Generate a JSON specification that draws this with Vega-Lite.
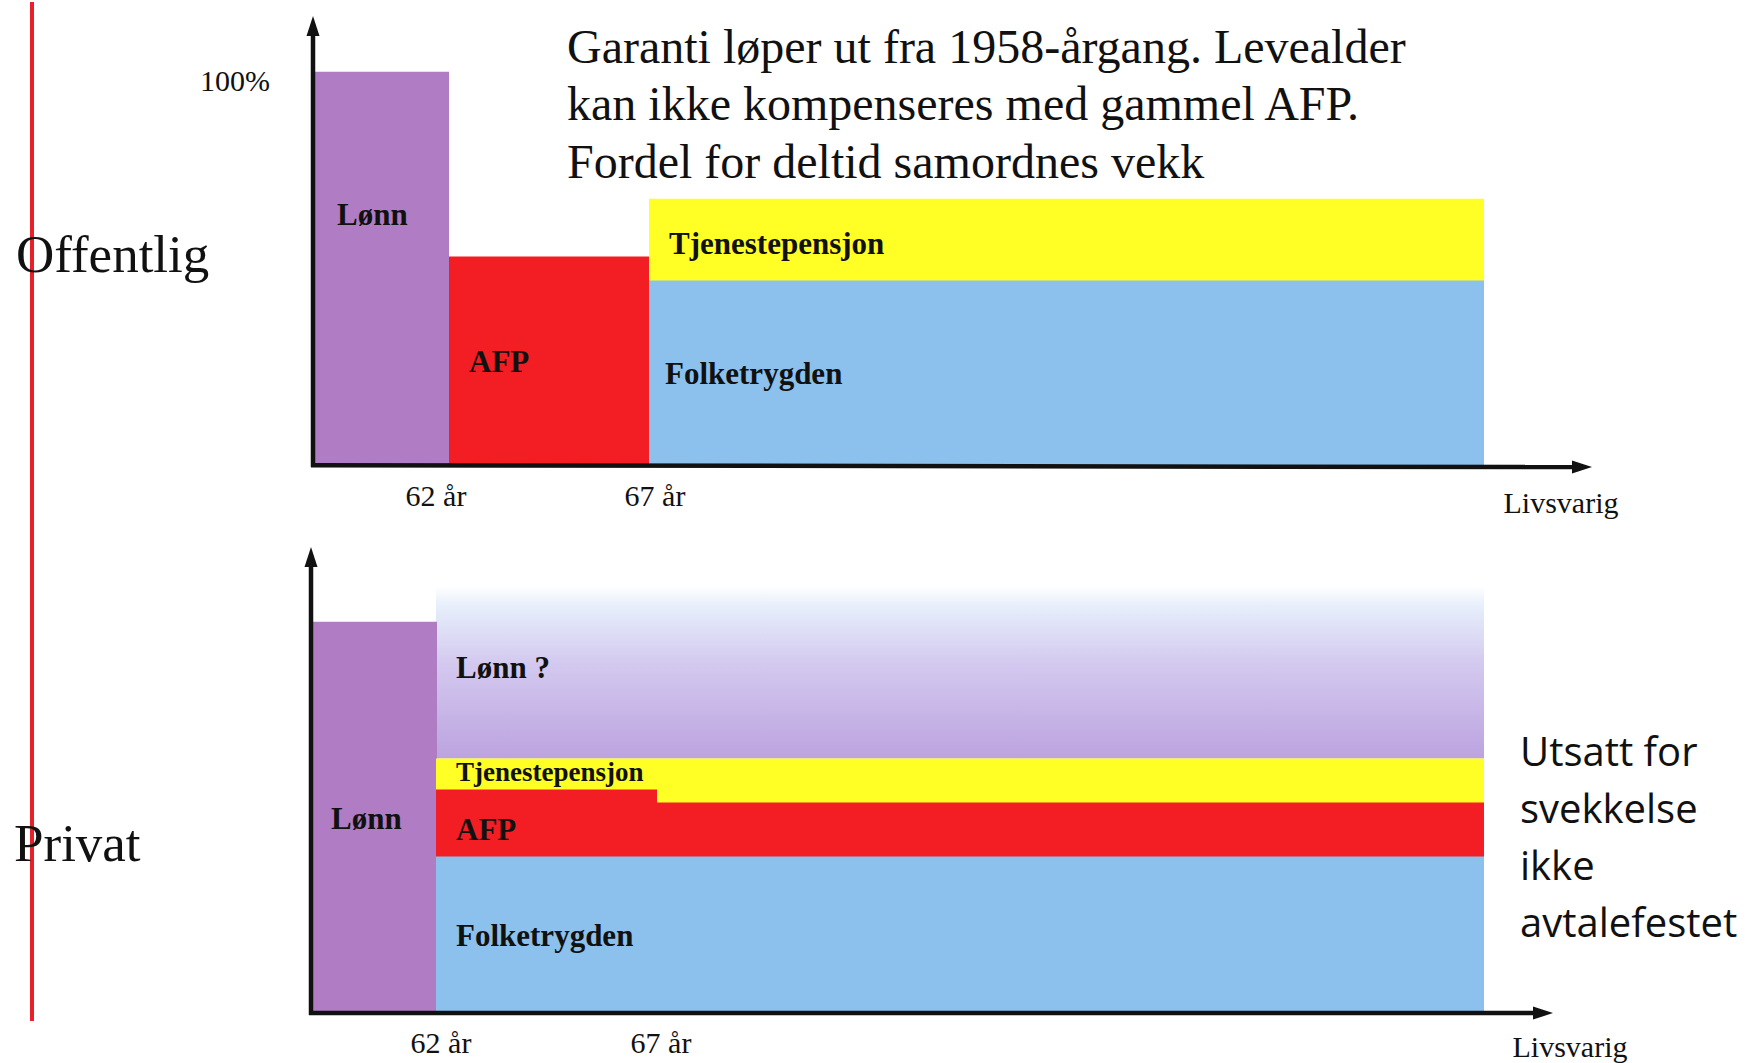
{
  "$schema": "https://vega.github.io/schema/vega-lite/v6.json",
  "width": 1755,
  "height": 1063,
  "autosize": {"type": "fit", "contains": "padding"},
  "padding": 0,
  "background": "white",
  "config": {"view": {"stroke": null}},
  "datasets": {
    "blocks": [
      {"panel": "Offentlig", "part": "Lønn", "x0": 314, "x1": 449, "y0": 70, "y1": 464},
      {"panel": "Offentlig", "part": "AFP", "x0": 449, "x1": 649, "y0": 255, "y1": 464},
      {"panel": "Offentlig", "part": "Tjenestepensjon", "x0": 649, "x1": 1484, "y0": 197, "y1": 280},
      {"panel": "Offentlig", "part": "Folketrygden", "x0": 649, "x1": 1484, "y0": 279, "y1": 464},
      {"panel": "Privat", "part": "Lønn", "x0": 312, "x1": 437, "y0": 621, "y1": 1013},
      {"panel": "Privat", "part": "Tjenestepensjon", "x0": 436, "x1": 1484, "y0": 758, "y1": 803},
      {"panel": "Privat", "part": "AFP", "x0": 436, "x1": 657, "y0": 789, "y1": 857},
      {"panel": "Privat", "part": "AFP", "x0": 656, "x1": 1484, "y0": 802, "y1": 857},
      {"panel": "Privat", "part": "Folketrygden", "x0": 436, "x1": 1484, "y0": 856, "y1": 1013}
    ],
    "fade": [
      {"panel": "Privat", "part": "Lønn ?", "x0": 436, "x1": 1484, "y0": 585, "y1": 758}
    ],
    "axes": [
      {"panel": "Offentlig", "x0": 313, "y0": 466, "x1": 313, "y1": 28},
      {"panel": "Offentlig", "x0": 311, "y0": 464, "x1": 1578, "y1": 466},
      {"panel": "Privat", "x0": 311, "y0": 1015, "x1": 311, "y1": 560},
      {"panel": "Privat", "x0": 309, "y0": 1013, "x1": 1540, "y1": 1013}
    ],
    "arrowsUp": [
      {"panel": "Offentlig", "x": 313, "y": 24},
      {"panel": "Privat", "x": 311, "y": 556}
    ],
    "arrowsRight": [
      {"panel": "Offentlig", "x": 1582, "y": 466},
      {"panel": "Privat", "x": 1543, "y": 1013}
    ],
    "divider": [
      {"x0": 32, "y0": 0, "x1": 32, "y1": 1021}
    ],
    "barLabels": [
      {"label": "Lønn", "x": 337, "y": 214},
      {"label": "AFP", "x": 469, "y": 362},
      {"label": "Tjenestepensjon", "x": 669, "y": 243},
      {"label": "Folketrygden", "x": 665, "y": 374},
      {"label": "Lønn ?", "x": 456, "y": 668},
      {"label": "Lønn", "x": 331, "y": 820},
      {"label": "AFP", "x": 456, "y": 831},
      {"label": "Folketrygden", "x": 456, "y": 937}
    ],
    "smallLabels": [
      {"label": "Tjenestepensjon", "x": 456, "y": 772}
    ],
    "ticks": [
      {"label": "100%", "x": 235, "y": 80},
      {"label": "62 år", "x": 436, "y": 496},
      {"label": "67 år", "x": 655, "y": 496},
      {"label": "Livsvarig", "x": 1561, "y": 503},
      {"label": "62 år", "x": 441, "y": 1044},
      {"label": "67 år", "x": 661, "y": 1044},
      {"label": "Livsvarig", "x": 1570, "y": 1048}
    ],
    "sideLabels": [
      {"label": "Offentlig", "x": 16, "y": 254},
      {"label": "Privat", "x": 14, "y": 845}
    ],
    "title": [
      {"label": "Garanti løper ut fra 1958-årgang. Levealder", "x": 567, "y": 47},
      {"label": "kan ikke kompenseres med gammel AFP.", "x": 567, "y": 104},
      {"label": "Fordel for deltid samordnes vekk", "x": 567, "y": 162}
    ],
    "note": [
      {"label": "Utsatt for", "x": 1520, "y": 753},
      {"label": "svekkelse", "x": 1520, "y": 811},
      {"label": "ikke", "x": 1520, "y": 868},
      {"label": "avtalefestet", "x": 1520, "y": 925}
    ]
  },
  "resolve": {"scale": {"x": "shared", "y": "shared"}},
  "layer": [
    {
      "data": {"name": "fade"},
      "mark": {
        "type": "rect",
        "color": {
          "gradient": "linear",
          "x1": 0, "y1": 0, "x2": 0, "y2": 1,
          "stops": [
            {"offset": 0, "color": "#ffffff"},
            {"offset": 0.12, "color": "#e6eefb"},
            {"offset": 0.45, "color": "#d3c9ef"},
            {"offset": 1, "color": "#bca3df"}
          ]
        }
      },
      "encoding": {
        "x": {"field": "x0", "type": "quantitative", "scale": {"domain": [0, 1755], "nice": false, "zero": false}, "axis": null},
        "x2": {"field": "x1"},
        "y": {"field": "y0", "type": "quantitative", "scale": {"domain": [0, 1063], "nice": false, "zero": false, "reverse": true}, "axis": null},
        "y2": {"field": "y1"}
      }
    },
    {
      "data": {"name": "blocks"},
      "mark": {"type": "rect"},
      "encoding": {
        "x": {"field": "x0", "type": "quantitative"},
        "x2": {"field": "x1"},
        "y": {"field": "y0", "type": "quantitative"},
        "y2": {"field": "y1"},
        "color": {
          "field": "part", "type": "nominal", "legend": null,
          "scale": {
            "domain": ["Lønn", "AFP", "Tjenestepensjon", "Folketrygden"],
            "range": ["#b07cc4", "#f21e23", "#ffff26", "#8bc1ec"]
          }
        }
      }
    },
    {
      "data": {"name": "divider"},
      "mark": {"type": "rule", "color": "#e8202a", "strokeWidth": 4},
      "encoding": {
        "x": {"field": "x0", "type": "quantitative"},
        "x2": {"field": "x1"},
        "y": {"field": "y0", "type": "quantitative"},
        "y2": {"field": "y1"}
      }
    },
    {
      "data": {"name": "axes"},
      "mark": {"type": "rule", "color": "#111111", "strokeWidth": 4.5},
      "encoding": {
        "x": {"field": "x0", "type": "quantitative"},
        "x2": {"field": "x1"},
        "y": {"field": "y0", "type": "quantitative"},
        "y2": {"field": "y1"}
      }
    },
    {
      "data": {"name": "arrowsUp"},
      "mark": {"type": "point", "shape": "M0,-1L0.65,1L-0.65,1Z", "filled": true, "color": "#111111", "size": 400, "opacity": 1},
      "encoding": {
        "x": {"field": "x", "type": "quantitative"},
        "y": {"field": "y", "type": "quantitative"}
      }
    },
    {
      "data": {"name": "arrowsRight"},
      "mark": {"type": "point", "shape": "M1,0L-1,-0.65L-1,0.65Z", "filled": true, "color": "#111111", "size": 400, "opacity": 1},
      "encoding": {
        "x": {"field": "x", "type": "quantitative"},
        "y": {"field": "y", "type": "quantitative"}
      }
    },
    {
      "data": {"name": "barLabels"},
      "mark": {"type": "text", "font": "Liberation Serif", "fontWeight": "bold", "fontSize": 31, "align": "left", "baseline": "middle", "color": "#111111"},
      "encoding": {
        "x": {"field": "x", "type": "quantitative"},
        "y": {"field": "y", "type": "quantitative"},
        "text": {"field": "label"}
      }
    },
    {
      "data": {"name": "smallLabels"},
      "mark": {"type": "text", "font": "Liberation Serif", "fontWeight": "bold", "fontSize": 27, "align": "left", "baseline": "middle", "color": "#111111"},
      "encoding": {
        "x": {"field": "x", "type": "quantitative"},
        "y": {"field": "y", "type": "quantitative"},
        "text": {"field": "label"}
      }
    },
    {
      "data": {"name": "ticks"},
      "mark": {"type": "text", "font": "Liberation Serif", "fontSize": 30, "align": "center", "baseline": "middle", "color": "#111111"},
      "encoding": {
        "x": {"field": "x", "type": "quantitative"},
        "y": {"field": "y", "type": "quantitative"},
        "text": {"field": "label"}
      }
    },
    {
      "data": {"name": "sideLabels"},
      "mark": {"type": "text", "font": "Liberation Serif", "fontSize": 53, "align": "left", "baseline": "middle", "color": "#111111"},
      "encoding": {
        "x": {"field": "x", "type": "quantitative"},
        "y": {"field": "y", "type": "quantitative"},
        "text": {"field": "label"}
      }
    },
    {
      "data": {"name": "title"},
      "mark": {"type": "text", "font": "Liberation Serif", "fontSize": 48, "align": "left", "baseline": "middle", "color": "#111111"},
      "encoding": {
        "x": {"field": "x", "type": "quantitative"},
        "y": {"field": "y", "type": "quantitative"},
        "text": {"field": "label"}
      }
    },
    {
      "data": {"name": "note"},
      "mark": {"type": "text", "font": "Open Sans", "fontSize": 40, "align": "left", "baseline": "middle", "color": "#111111"},
      "encoding": {
        "x": {"field": "x", "type": "quantitative"},
        "y": {"field": "y", "type": "quantitative"},
        "text": {"field": "label"}
      }
    }
  ]
}
